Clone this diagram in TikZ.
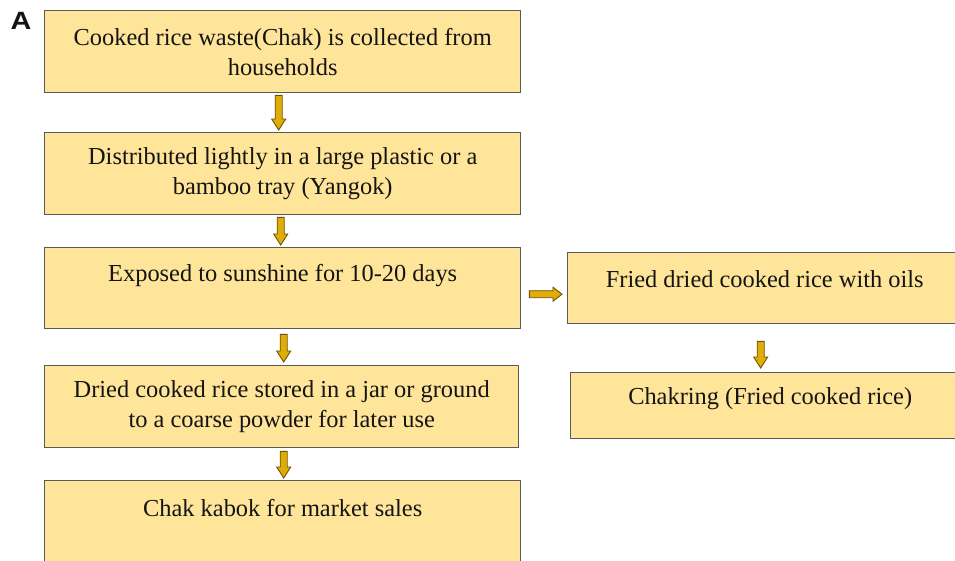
\documentclass[tikz,border=0pt]{standalone}
\usepackage{fontspec}
\setmainfont{Liberation Serif}
\newfontfamily\labfont{Liberation Sans}
\usetikzlibrary{calc}
\definecolor{boxfill}{HTML}{FFE599}
\definecolor{boxline}{HTML}{5A5A5A}
\definecolor{arrfill}{HTML}{E0AD08}
\definecolor{arrline}{HTML}{6E5200}
\definecolor{txt}{HTML}{141414}
% vertical block arrow: from node #1 (south) to node #2 (north), x offset #3, top gap #4, bottom gap #5
\newcommand\vblock[5]{%
  \path[barrow] let \p1=($(#1.south)+(#3,#4)$), \p2=($(#2.north)+(#3,-#5)$) in
   ({\x1-3.5pt},\y1) -- ({\x1+3.5pt},\y1) -- ({\x1+3.5pt},{\y2+11pt}) -- ({\x1+7pt},{\y2+11pt})
   -- (\x1,\y2) -- ({\x1-7pt},{\y2+11pt}) -- ({\x1-3.5pt},{\y2+11pt}) -- cycle;}
\begin{document}
\begin{tikzpicture}[x=1pt,y=-1pt,
  box/.style={draw=boxline, fill=boxfill, line width=1.4pt, text=txt, align=center,
    inner sep=0pt, anchor=north west, font=\fontsize{24.4}{30}\selectfont},
  barrow/.style={fill=arrfill, draw=arrline, line width=0.9pt, line join=miter}]
\useasboundingbox (0,0) rectangle (955,560);
\clip (0,0) rectangle (955,560);

\node[font=\labfont\bfseries\fontsize{25}{26}\selectfont, text=txt, xscale=1.15] (lab) at (21,20.5) {A};

\node[box, minimum width=476pt, minimum height=82pt] (b1) at (44,10)
  {Cooked rice waste(Chak) is collected from\\households};
\node[box, minimum width=476pt, minimum height=82pt] (b2) at (44,132)
  {Distributed lightly in a large plastic or a\\bamboo tray (Yangok)};
\node[box, minimum width=476pt, minimum height=81pt] (b3) at (44,247)
  {Exposed to sunshine for 10-20 days\\\mbox{}};
\node[box, minimum width=474pt, minimum height=82pt] (b4) at (44,365)
  {Dried cooked rice stored in a jar or ground\\to a coarse powder for later use};
\node[box, minimum width=476pt, minimum height=85pt] (b5) at (44,480)
  {Chak kabok for market sales\\\mbox{}};

\node[box, minimum width=394pt, minimum height=71pt, text depth=19pt] (r1) at (567,252)
  {Fried dried cooked rice with oils};
\node[box, minimum width=399pt, minimum height=66pt, text depth=19pt] (r2) at (570,372)
  {Chakring (Fried cooked rice)};

\vblock{b1}{b2}{-4}{2}{2}
\vblock{b2}{b3}{-2}{2}{2}
\vblock{b3}{b4}{1}{5}{3}
\vblock{b4}{b5}{2}{3}{2}
\vblock{r1}{r2}{-4}{17}{4}

\path[barrow] let \p1=($(b3.east)+(8,6)$), \p2=($(r1.west)+(-5,6)$) in
  (\x1,{\y1+3.5pt}) -- ({\x2-9pt},{\y1+3.5pt}) -- ({\x2-9pt},{\y1+7pt}) -- (\x2,\y1)
  -- ({\x2-9pt},{\y1-7pt}) -- ({\x2-9pt},{\y1-3.5pt}) -- (\x1,{\y1-3.5pt}) -- cycle;
\end{tikzpicture}
\end{document}
